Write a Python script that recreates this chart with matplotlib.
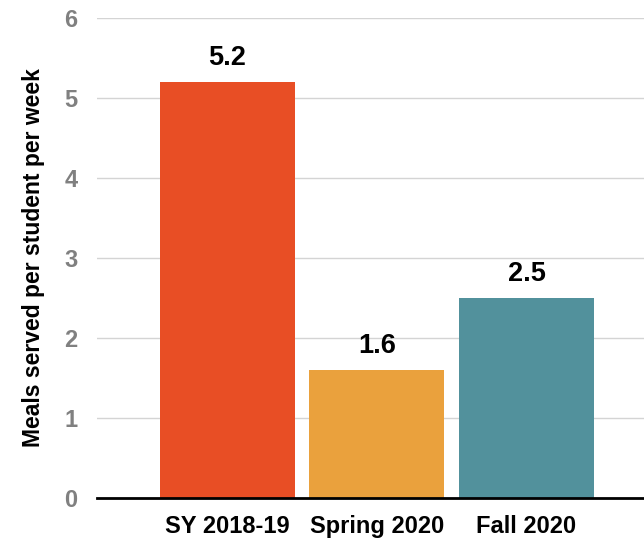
import matplotlib.pyplot as plt
import numpy as np

plt.rcParams['font.family'] = ['Liberation Sans', 'DejaVu Sans']

# data
categories = ['SY 2018-19', 'Spring 2020', 'Fall 2020']
meals = [5.2, 1.6, 2.5]
colors = ['#E84E25', '#EAA13D', '#52919C']

fig = plt.figure(figsize=(6.44, 5.39), dpi=100)
ax = fig.add_axes([0.1506, 0.0761, 0.8494, 0.8905])

x = np.arange(len(categories))
bars = ax.bar(x, meals, width=0.903, color=colors, zorder=2)

for xi, v in zip(x, meals):
    ax.text(xi, v + 0.14, f'{v:.1f}', ha='center', va='bottom',
            fontsize=19.5, fontweight='bold', color='black')

ax.set_xlim(-0.873, 2.786)
ax.set_ylim(0, 6)
ax.set_yticks(range(0, 7))
ax.yaxis.grid(True, color='#d4d4d4', linewidth=1, zorder=0)
ax.set_axisbelow(True)

for s in ['top', 'right', 'left']:
    ax.spines[s].set_visible(False)
ax.spines['bottom'].set_linewidth(2)
ax.spines['bottom'].set_color('black')
ax.spines['bottom'].set_zorder(3)

ax.tick_params(axis='y', length=0, pad=14, labelsize=17, labelcolor='#808080')
for lbl in ax.get_yticklabels():
    lbl.set_fontweight('bold')
ax.tick_params(axis='x', length=0, pad=12, labelsize=17)
ax.set_xticks(x)
ax.set_xticklabels(categories, fontweight='bold')

ax.set_ylabel('Meals served per student per week', fontsize=16.5,
              fontweight='bold', labelpad=14)

fig.savefig('out.png', dpi=100)
